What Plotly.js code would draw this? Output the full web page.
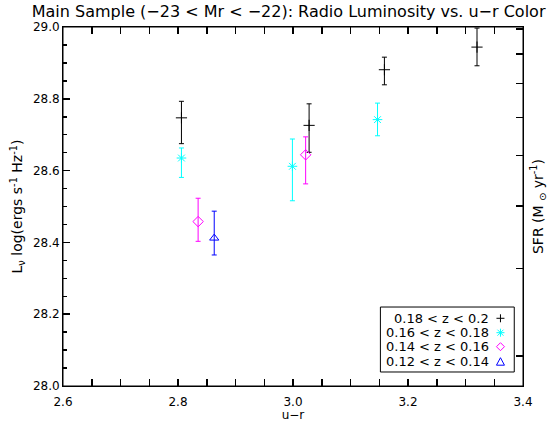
<!DOCTYPE html>
<html>
<head>
<meta charset="utf-8">
<script src="https://cdn.plot.ly/plotly-3.0.1.min.js"></script>
<style>html,body{margin:0;padding:0;background:#fff;}#chart{width:555px;height:422px;}</style>
</head>
<body>
<div id="chart"></div>
<script>
// ---- data ----
const seriesNames = ["0.18 < z < 0.2", "0.16 < z < 0.18", "0.14 < z < 0.16", "0.12 < z < 0.14"];

const z18x = [2.806, 3.028, 3.159, 3.320];
const z18y = [28.747, 28.726, 28.881, 28.944];
const z18hi = [28.793, 28.786, 28.916, 28.997];
const z18lo = [28.675, 28.651, 28.839, 28.892];

const z16x = [2.806, 2.999, 3.147];
const z16y = [28.635, 28.612, 28.742];
const z16hi = [28.663, 28.688, 28.788];
const z16lo = [28.581, 28.516, 28.697];

const z14x = [2.835, 3.022];
const z14y = [28.458, 28.644];
const z14hi = [28.523, 28.694];
const z14lo = [28.403, 28.563];

const z12x = [2.863];
const z12y = [28.412];
const z12hi = [28.487];
const z12lo = [28.365];

// axis ranges and tick positions
const xRange = [2.6, 3.4];
const yRange = [28.0, 29.0];
const xMajorTicks = [2.6, 2.8, 3.0, 3.2, 3.4];
const yMajorTicks = [28.0, 28.2, 28.4, 28.6, 28.8, 29.0];
const minorStep = 0.05;
// right-hand SFR axis tick positions (in L units, unlabeled)
const sfrTickVals = [28.994, 28.925, 28.843, 28.748, 28.642, 28.502, 28.327, 28.084];

const colors = ["#000000", "#00FFFF", "#FF00FF", "#0000FF"];
const symbols = ["cross-thin-open", "asterisk-open", "diamond-open", "triangle-up-open"];

function mk(x, y, hi, lo, i) {
  return {
    type: "scatter", mode: "markers", x: x, y: y, name: seriesNames[i],
    showlegend: false, hoverinfo: "skip",
    marker: {symbol: symbols[i], size: 8, color: colors[i], line: {color: colors[i], width: 1}},
    error_y: {
      type: "data", symmetric: false,
      array: hi.map((v, k) => v - y[k]),
      arrayminus: lo.map((v, k) => y[k] - v),
      color: colors[i], thickness: 1, width: 2.5
    }
  };
}

const traces = [
  mk(z18x, z18y, z18hi, z18lo, 0),
  mk(z16x, z16y, z16hi, z16lo, 1),
  mk(z14x, z14y, z14hi, z14lo, 2),
  mk(z12x, z12y, z12hi, z12lo, 3),
  // invisible carrier so the right-hand SFR axis is built
  {type: "scatter", mode: "markers", x: z18x, y: z18y, yaxis: "y2", showlegend: false,
   hoverinfo: "skip", marker: {opacity: 0, size: 1}}
];

const shapes = [];
// plot frame
shapes.push({type: "rect", xref: "paper", yref: "paper", x0: 0, x1: 1, y0: 0, y1: 1,
  line: {color: "#000", width: 1}, fillcolor: "rgba(0,0,0,0)", layer: "above"});

// legend drawn as box + text + symbol glyph shapes
const legTop = 0.220, legBot = 0.039, legL = 0.690, legR = 0.981;
const rowY = [0.1886, 0.1485, 0.1095, 0.0677];
const symX = 0.951, textX = 0.931;
const glyphPaths = [
  "M-4,0L4,0M0,-4L0,4",
  "M-4,0L4,0M0,-4L0,4M-3,-3L3,3M-3,3L3,-3",
  "M-4,0L0,4L4,0L0,-4Z",
  "M-4,-3.5L0,4L4,-3.5Z"
];
shapes.push({
  type: "rect", xref: "paper", yref: "paper", x0: legL, x1: legR, y0: legBot, y1: legTop,
  line: {color: "#000", width: 1}, fillcolor: "#fff", layer: "above"
});
const annotations = [];
for (let i = 0; i < 4; i++) {
  shapes.push({
    type: "path", xref: "paper", yref: "paper",
    xsizemode: "pixel", ysizemode: "pixel", xanchor: symX, yanchor: rowY[i],
    path: glyphPaths[i], line: {color: colors[i], width: 1}, layer: "above"
  });
  annotations.push({
    xref: "paper", yref: "paper", x: textX, y: rowY[i], xanchor: "right", yanchor: "middle",
    text: seriesNames[i], showarrow: false, font: {family: "DejaVu Sans", size: 13, color: "#000"}
  });
}

const tickStyle = {ticks: "inside", ticklen: 7, tickwidth: 1.5, tickcolor: "#000"};
const minorStyle = {dtick: minorStep, ticks: "inside", ticklen: 4, tickwidth: 1.5, tickcolor: "#000", showgrid: false};

const layout = {
  width: 555, height: 422,
  margin: {l: 63, r: 32, t: 27, b: 36, pad: 0},
  paper_bgcolor: "#fff", plot_bgcolor: "#fff",
  font: {family: "DejaVu Sans", size: 12, color: "#000"},
  showlegend: false,
  title: {
    text: "Main Sample (−23 < Mr < −22): Radio Luminosity vs. u−r Color",
    font: {family: "DejaVu Sans", size: 16, color: "#000"},
    x: 0.52, xanchor: "center", y: 0.973, yanchor: "middle"
  },
  xaxis: Object.assign({
    range: xRange, tickmode: "array", tickvals: xMajorTicks, tickformat: ".1f",
    minor: Object.assign({tick0: xRange[0]}, minorStyle),
    showline: true, linecolor: "#000", linewidth: 1, mirror: "allticks",
    showgrid: false, zeroline: false, ticklabelstandoff: 5,
    title: {text: "u−r", font: {family: "DejaVu Sans", size: 12}, standoff: 5}
  }, tickStyle),
  yaxis: Object.assign({
    range: yRange, tickmode: "array", tickvals: yMajorTicks, tickformat: ".1f",
    minor: Object.assign({tick0: yRange[0]}, minorStyle),
    showline: true, linecolor: "#000", linewidth: 1, mirror: false,
    showgrid: false, zeroline: false,
    title: {text: "L<sub>ν</sub> log(ergs s<sup>-1</sup> Hz<sup>-1</sup>)", font: {family: "DejaVu Sans", size: 14}, standoff: 6}
  }, tickStyle),
  yaxis2: Object.assign({
    overlaying: "y", side: "right", range: yRange, anchor: "x",
    tickmode: "array", tickvals: sfrTickVals, showticklabels: false,
    showline: true, linecolor: "#000", linewidth: 1,
    showgrid: false, zeroline: false,
    title: {text: "SFR (M <sub>⊙</sub> yr<sup>-1</sup>)", font: {family: "DejaVu Sans", size: 14}, standoff: 10}
  }, tickStyle),
  shapes: shapes,
  annotations: annotations
};

Plotly.newPlot("chart", traces, layout, {staticPlot: true, displayModeBar: false});
</script>
</body>
</html>
